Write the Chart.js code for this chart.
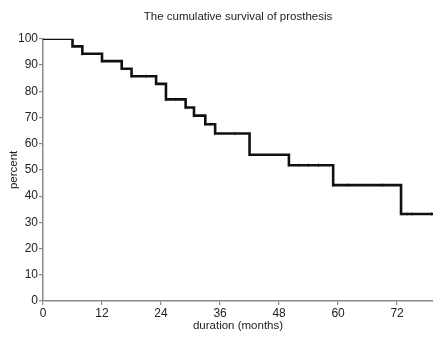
<!DOCTYPE html>
<html>
<head>
<meta charset="utf-8">
<script src="https://cdn.jsdelivr.net/npm/chart.js@4"></script>
<style>
  html, body { margin: 0; padding: 0; background: #fff; }
  #km { display: block; }
</style>
</head>
<body>
<canvas id="km" width="433" height="338"></canvas>
<script>
// step curve: survival drops to survival[i] at months[i]
const months   = [0, 6, 8, 12, 16, 18, 23, 25, 29, 30.7, 33, 35, 42, 50, 59, 72.8, 79.3];
const survival = [100, 97.1, 94.3, 91.5, 88.6, 85.7, 82.8, 76.9, 73.8, 70.7, 67.4, 63.9, 55.8, 51.8, 44.2, 33.2, 33.2];

// censored cases (small tick marks on the curve)
const censorMonths = [8, 12, 18, 21, 25, 27, 29, 30.7, 33, 34, 35, 39, 42, 50, 52, 54, 56, 59, 62, 69, 73, 74, 75, 79];
const censorValues = [94.3, 91.5, 85.7, 85.7, 76.9, 76.9, 73.8, 70.7, 67.4, 67.4, 63.9, 63.9, 55.8, 51.8, 51.8, 51.8, 51.8, 44.2, 44.2, 44.2, 33.2, 33.2, 33.2, 33.2];

const xTicks = [0, 12, 24, 36, 48, 60, 72];
const yTicks = [0, 10, 20, 30, 40, 50, 60, 70, 80, 90, 100];

const font = "'Liberation Sans', Arial, Helvetica, sans-serif";
const axisGrey = "#8a8a8a";

new Chart(document.getElementById("km").getContext("2d"), {
  type: "line",
  data: {
    datasets: [
      {
        label: "survival",
        data: months.map((m, i) => ({ x: m, y: survival[i] })),
        stepped: true,
        borderColor: "#111",
        borderWidth: 2.6,
        pointRadius: 0,
        fill: false,
      },
      {
        label: "censored",
        type: "scatter",
        data: censorMonths.map((m, i) => ({ x: m, y: censorValues[i] })),
        pointStyle: "line",
        rotation: 90,
        pointRadius: 2,
        borderColor: "#a0a0a0",
        borderWidth: 1,
      },
    ],
  },
  options: {
    responsive: false,
    animation: false,
    layout: { autoPadding: false, padding: 0 },
    plugins: {
      legend: { display: false },
      tooltip: { enabled: false },
      title: {
        display: true,
        fullSize: false,
        text: "The cumulative survival of prosthesis",
        color: "#222",
        font: { family: font, size: 11.5, weight: "normal" },
        padding: { top: 10, bottom: 15 },
      },
    },
    scales: {
      x: {
        type: "linear",
        min: 0,
        max: 79.3,
        afterBuildTicks: (s) => { s.ticks = xTicks.map((v) => ({ value: v })); },
        afterFit: (s) => { s.height = 37; },
        grid: { drawOnChartArea: false, tickLength: 4, color: axisGrey, lineWidth: 1.2 },
        border: { color: axisGrey, width: 1.5 },
        ticks: { color: "#222", padding: 1, maxRotation: 0, font: { family: font, size: 12 } },
        title: {
          display: true,
          text: "duration (months)",
          color: "#222",
          padding: { top: 0, bottom: 5 },
          font: { family: font, size: 11.5 },
        },
      },
      y: {
        min: 0,
        max: 100,
        afterBuildTicks: (s) => { s.ticks = yTicks.map((v) => ({ value: v })); },
        afterFit: (s) => { s.width = 43; },
        grid: { drawOnChartArea: false, tickLength: 4, color: axisGrey, lineWidth: 1.2 },
        border: { color: axisGrey, width: 1.5 },
        ticks: { color: "#222", padding: 1, font: { family: font, size: 12 } },
        title: {
          display: true,
          text: "percent",
          color: "#222",
          padding: { top: 6.5, bottom: 0 },
          font: { family: font, size: 11.5 },
        },
      },
    },
  },
});
</script>
</body>
</html>
